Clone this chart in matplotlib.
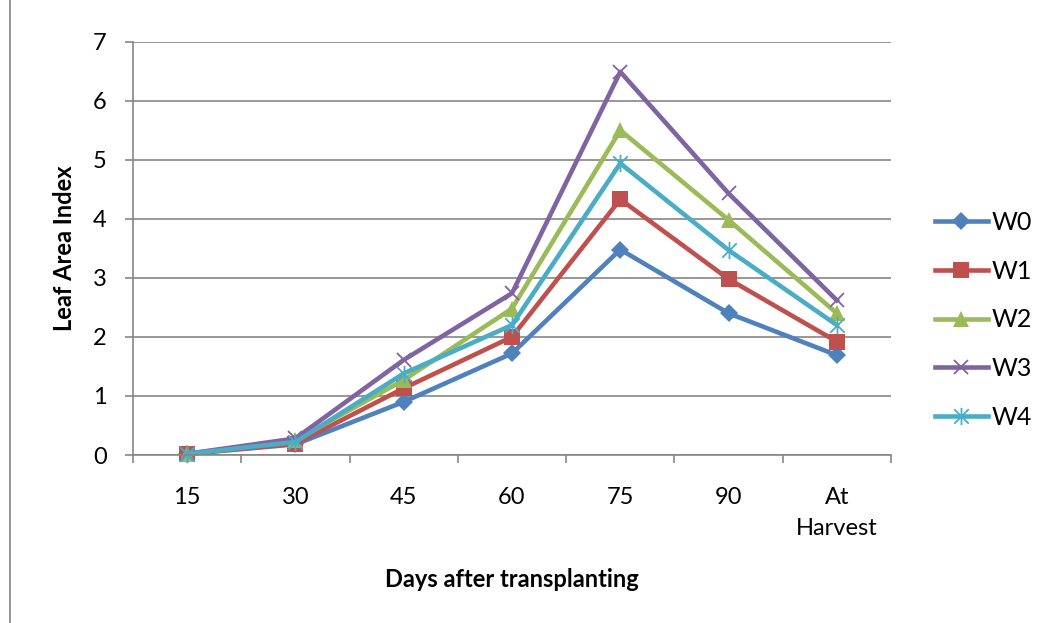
import matplotlib
matplotlib.use("Agg")
import matplotlib.pyplot as plt
import numpy as np
from matplotlib.path import Path
from matplotlib.lines import Line2D

categories = ["15", "30", "45", "60", "75", "90", "At\nHarvest"]
series_names = ["W0", "W1", "W2", "W3", "W4"]
w0 = [0.02, 0.18, 0.90, 1.72, 3.48, 2.40, 1.69]
w1 = [0.02, 0.19, 1.13, 2.00, 4.33, 2.98, 1.92]
w2 = [0.02, 0.25, 1.27, 2.48, 5.50, 3.98, 2.40]
w3 = [0.02, 0.28, 1.61, 2.74, 6.49, 4.43, 2.62]
w4 = [0.02, 0.22, 1.38, 2.20, 4.94, 3.47, 2.20]
y_ticks = [0, 1, 2, 3, 4, 5, 6, 7]

colors = ["#4F81BD", "#C0504D", "#9BBB59", "#8064A2", "#4BACC6"]

# asterisk marker: an x crossed by a vertical bar
star_path = Path(
    [(-0.5, -0.5), (0.5, 0.5), (-0.5, 0.5), (0.5, -0.5), (0, -0.6), (0, 0.6)],
    [Path.MOVETO, Path.LINETO, Path.MOVETO, Path.LINETO, Path.MOVETO, Path.LINETO],
)

styles = [
    dict(marker="D", ms=9.5, mew=0),
    dict(marker="s", ms=11.5, mew=0),
    dict(marker="^", ms=12, mew=0),
    dict(marker="x", ms=10.5, mew=1.3),
    dict(marker=star_path, ms=12.5, mew=1.3),
]

plt.rcParams["font.family"] = ["Lato", "DejaVu Sans"]

fig = plt.figure(figsize=(10.41, 6.23), dpi=100)
ax = fig.add_axes([133 / 1041, 1 - 455 / 623, (891 - 133) / 1041, (455 - 41.7) / 623])

x = np.arange(len(categories))
for vals, name, c, st in zip([w0, w1, w2, w3, w4], series_names, colors, styles):
    ax.plot(x, vals, color=c, lw=3.3, marker=st["marker"], ms=st["ms"],
            mfc=c, mec=c, mew=st["mew"], label=name, solid_joinstyle="round",
            clip_on=False)

ax.set_xlim(-0.5, len(categories) - 0.5)
ax.set_ylim(0, 7)
ax.set_yticks(y_ticks)
ax.set_xticks(x)
ax.set_xticklabels(categories, fontsize=17, linespacing=1.6)
ax.set_xticks(np.arange(len(categories) + 1) - 0.5, minor=True)
ax.tick_params(axis="x", which="major", length=0, pad=23)
ax.tick_params(axis="x", which="minor", length=6, width=1.2, color="#868686", direction="out")
ax.tick_params(axis="y", length=6, width=1.2, color="#868686", direction="out", pad=13, labelsize=17)

ax.grid(axis="y", color="#868686", lw=1.2)
ax.set_axisbelow(True)
for s in ["top", "right"]:
    ax.spines[s].set_visible(False)
for s in ["left", "bottom"]:
    ax.spines[s].set_color("#868686")
    ax.spines[s].set_linewidth(1.2)

ax.set_ylabel("Leaf Area Index", fontsize=17, fontweight="bold", labelpad=12)
ax.set_xlabel("Days after transplanting", fontsize=17, fontweight="bold", labelpad=21)

leg = ax.legend(loc="center left", bbox_to_anchor=(1.045, 0.327), frameon=False,
                fontsize=18, handlelength=2.1, handletextpad=0.15, labelspacing=1.03,
                borderaxespad=0)

# outer chart border on the left side
fig.add_artist(Line2D([10 / 1041, 10 / 1041], [0, 1], color="#868686", lw=1.2,
                      transform=fig.transFigure))

fig.savefig("out.png", dpi=100)
